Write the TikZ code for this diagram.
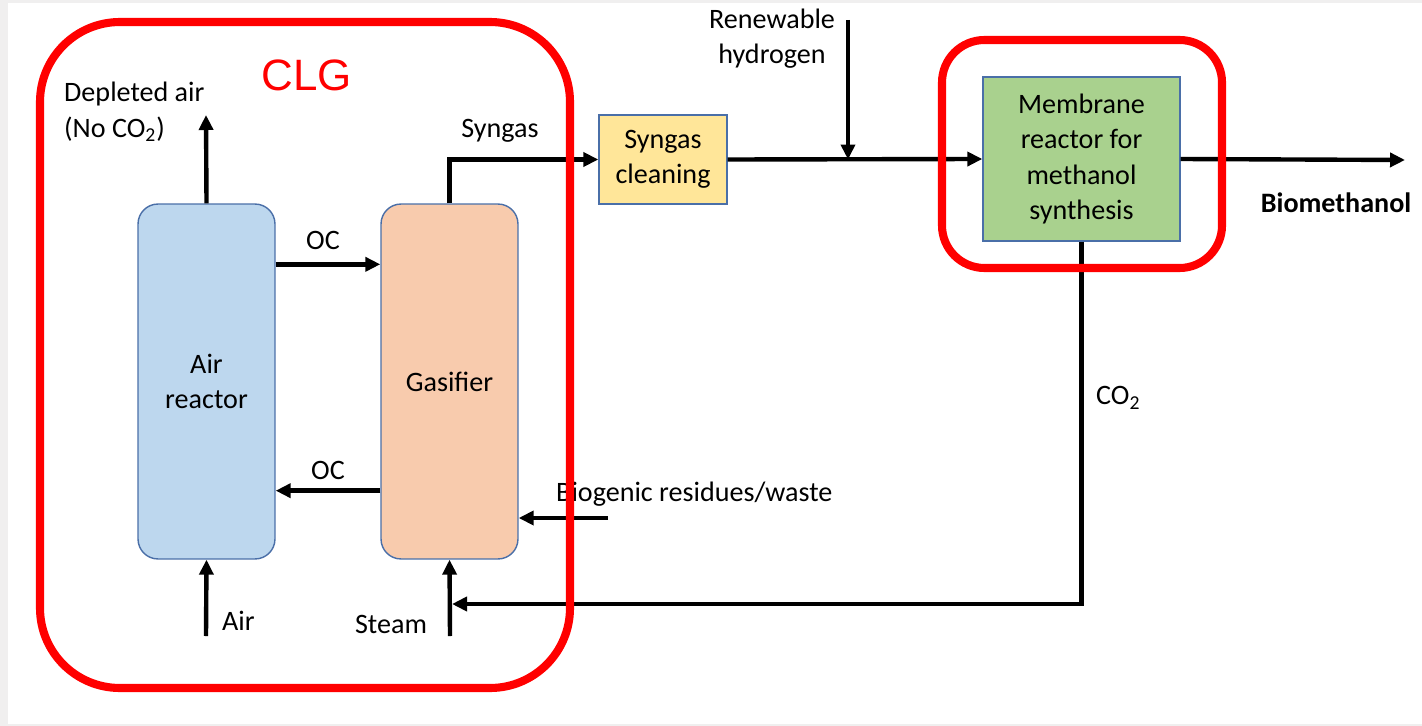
\documentclass[tikz,border=0pt]{standalone}
\usepackage{fontspec}
\setmainfont{Carlito}
\newfontfamily\clgfont{Liberation Sans}
\usetikzlibrary{arrows.meta, positioning}

\definecolor{bggray}{HTML}{F0EFEF}
\definecolor{edgeblue}{HTML}{4A6FA8}
\definecolor{airblue}{HTML}{BDD7EE}
\definecolor{gasorange}{HTML}{F8CBAD}
\definecolor{cleanyellow}{HTML}{FFE699}
\definecolor{membgreen}{HTML}{A9D18E}
\definecolor{clgred}{HTML}{FF0000}

\begin{document}
\begin{tikzpicture}
  [
  x = 0.02cm, y = -0.02cm,
  % reactor
  reactor/.style = {rectangle,
    rounded corners = 0.4cm,
    draw = edgeblue, line width = 0.8pt,
    minimum width = 2.74cm,
    minimum height = 7.1cm,
    align = center},
  % unit
  unit/.style = {rectangle,
    draw = edgeblue, line width = 0.8pt,
    align = center},
  % group
  group/.style = {draw = clgred, line width = 4.6pt},
  % flow
  flow/.style = {draw, line width = 2.5pt,
    -{Triangle[length = 0.3cm, width = 0.28cm]}},
  % text
  font = \fontsize{16}{20}\selectfont,
  ]

  % background
  \useasboundingbox (0,0) rectangle (1422,726);
  \fill [bggray] (0,0) rectangle (1422,726);
  \fill [white] (8,3) rectangle (1422,724);

  % nodes
  \node [reactor, fill = airblue] (air) at (206.5,381.5) {Air\\reactor};
  \node [reactor, fill = gasorange] (gas) at (449.5,381.5) {Gasifier};
  \node [unit, fill = cleanyellow, minimum width = 2.56cm,
    minimum height = 1.78cm] (clean) at (663,159.5) {Syngas\\cleaning};
  \node [unit, fill = membgreen, minimum width = 3.94cm,
    minimum height = 3.28cm] (memb) at (1081.5,159)
    {Membrane\\reactor for\\methanol\\synthesis};

  % free ends
  \coordinate (depl) at (206,115);
  \coordinate (airin) at (206,636);
  \coordinate (steamin) at (450,636);
  \coordinate (h2) at (848,20);
  \coordinate (bioin) at (608,518);
  \coordinate (mix) at (452,604);
  \coordinate (out) at (1405,160);

  % labels
  \node [align = left, anchor = west] (depltxt) at (58,112)
    {Depleted air\\(No CO\textsubscript{2})};
  \node (octop) at (323,240) {OC};
  \node (ocbot) at (328,470) {OC};
  \node (syntxt) at (500,131) {Syngas};
  \node [align = center] (h2txt) at (772,39) {Renewable\\hydrogen};
  \node [font = \fontsize{16}{20}\selectfont\bfseries] (biotxt)
    at (1336,203) {Biomethanol};
  \node [anchor = west] (co2txt) at (1090,398) {CO\textsubscript{2}};
  \node [anchor = west] (wastetxt) at (550,494) {Biogenic residues/waste};
  \node (steamtxt) at (391,624) {Steam};
  \node [anchor = west] (airtxt) at (216,621) {Air};

  % path
  \path [flow] (air.north) -- (depl);
  \path [flow] (airin) -- (air.south);
  \path [flow] (steamin) -- (gas.south);
  \path [flow] ([yshift = -1.22cm]air.north east)
    -- ([yshift = -1.22cm]gas.north west);
  \path [flow] ([yshift = 1.38cm]gas.south west)
    -- ([yshift = 1.38cm]air.south east);
  \path [flow] (bioin) -- (bioin -| gas.east);
  \path [flow] (gas.north) |- (clean.west);
  \path [flow] (clean.east) -- (memb.west);
  \path [flow] (h2) -- (h2 |- clean.east);
  \path [flow] (memb.east) -- (out);
  \path [flow] (memb.south) |- (mix);

  % groups
  \draw [group, rounded corners = 1.6cm] (40,22) rectangle (570,688);
  \draw [group, rounded corners = 0.85cm] (942,40) rectangle (1222,268);
  \node [text = clgred, font = \clgfont\fontsize{25}{30}\selectfont]
    (clg) at (307,75) {CLG};

\end{tikzpicture}
\end{document}
